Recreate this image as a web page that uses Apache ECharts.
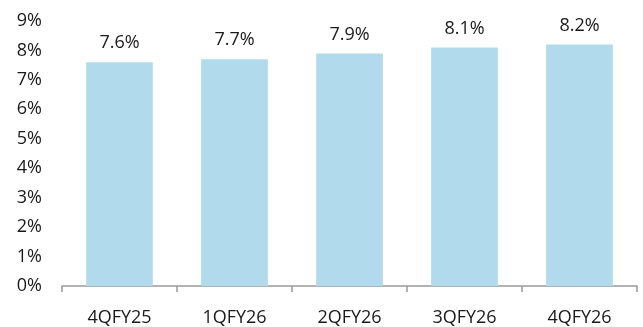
<!DOCTYPE html>
<html>
<head>
<meta charset="utf-8">
<script src="https://cdn.jsdelivr.net/npm/echarts@6/dist/echarts.min.js"></script>
<style>
  html, body { margin: 0; padding: 0; background: #fff; }
  #chart { width: 643px; height: 327px; }
</style>
</head>
<body>
<div id="chart"></div>
<script>
// Quarterly ratio, in percent
const quarters = ['4QFY25', '1QFY26', '2QFY26', '3QFY26', '4QFY26'];
const ratios = [7.6, 7.7, 7.9, 8.1, 8.2];

const FONT = '"Open Sans", "Noto Sans", sans-serif';

const chart = echarts.init(document.getElementById('chart'), null, { renderer: 'canvas' });
chart.setOption({
  animation: false,
  grid: { left: 62, right: 6, top: 21, bottom: 41, containLabel: false },
  xAxis: {
    type: 'category',
    data: quarters,
    axisLine: { lineStyle: { color: '#9a9a9a', width: 1.5 } },
    axisTick: { show: true, length: 6, alignWithLabel: false, lineStyle: { color: '#9a9a9a', width: 1.5 } },
    axisLabel: { color: '#1a1a1a', fontSize: 18, fontFamily: FONT, margin: 23 }
  },
  yAxis: {
    type: 'value',
    min: 0,
    max: 9,
    interval: 1,
    axisLine: { show: false },
    axisTick: { show: false },
    splitLine: { show: false },
    axisLabel: {
      color: '#1a1a1a', fontSize: 18, fontFamily: FONT, margin: 20,
      formatter: v => v + '%'
    }
  },
  series: [{
    type: 'bar',
    data: ratios,
    barWidth: '58%',
    itemStyle: { color: '#b1dbec' },
    label: {
      show: true,
      position: 'top',
      distance: 10,
      color: '#1a1a1a',
      fontSize: 18,
      fontFamily: FONT,
      formatter: p => p.value.toFixed(1) + '%'
    }
  }]
});
</script>
</body>
</html>
